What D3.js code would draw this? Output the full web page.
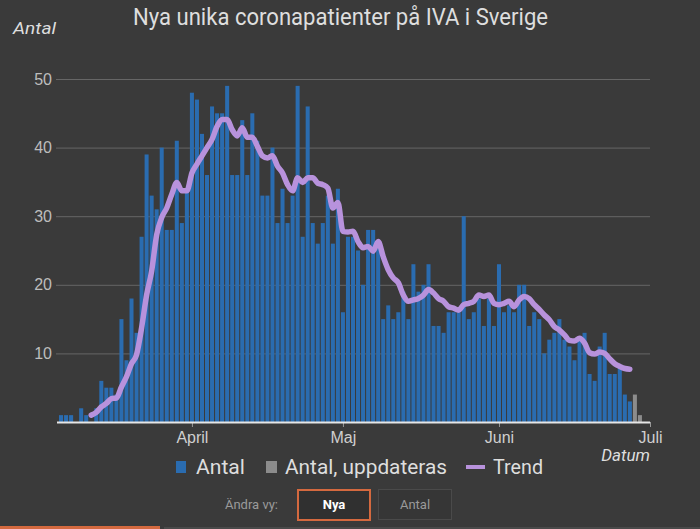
<!DOCTYPE html>
<html>
<head>
<meta charset="utf-8">
<script src="https://cdn.jsdelivr.net/npm/d3@7"></script>
<style>
  html, body { margin: 0; padding: 0; background: #3a3a3a; }
  svg { display: block; font-family: Roboto, "Noto Sans", sans-serif; }
</style>
</head>
<body>
<svg id="chart" width="700" height="529"></svg>
<script>
// ---- Data ----
const title = "Nya unika coronapatienter på IVA i Sverige";
const startDate = "2020-03-06";           // first bar
const antal = [1,1,1,0,2,1,0,2,6,5,5,4,15,9,18,13,27,39,33,31,40,28,28,41,29,34,48,47,42,36,
  46,45,45,49,36,36,44,36,45,41,33,33,40,29,34,29,33,49,27,46,29,26,29,33,26,34,16,27,27,25,
  20,28,28,26,15,17,15,16,19,15,23,19,20,23,14,14,13,16,16,16,30,15,16,18,14,18,14,23,16,17,
  16,20,20,14,16,15,10,12,13,15,12,11,9,12,13,7,6,11,13,7,7,8,4,3];
const antalUppdateras = [4, 1];            // last days, still being updated
const trendStartOffset = 6;                // trend starts 2020-03-12
const trend = [1.0,1.4,2.2,2.7,3.4,3.5,5.1,6.6,8.5,9.8,13.7,18.5,22,27.3,29.8,31.2,33.2,34.9,33.7,33.7,
  36.3,37.6,38.8,40,41.2,43.1,44.1,44.1,42.6,41.7,42.9,41.5,41.5,40.2,38.8,38.5,38.8,37.3,36.3,34.6,
  33.7,35.6,34.9,35.6,35.6,34.8,34.6,34.1,31.2,32,27.8,27.7,27.8,26.3,25.4,25.6,24.9,26.3,24.1,22.2,
  21,20.3,18.5,17.6,17.8,18,18.5,19.3,18.8,18,17.6,16.8,16.6,16.3,17.1,17.3,17.6,18.5,18.3,18.5,
  17.3,17.1,17.3,17.6,16.8,17.8,18.3,18,17.1,16.4,15.6,14.9,13.9,13.4,12.7,11.9,11.8,12.2,11.5,10.1,
  9.9,10.2,10,9.2,8.5,8.1,7.8,7.7];
const yTicks = [10, 20, 30, 40, 50];
const monthTicks = ["2020-04-01", "2020-05-01", "2020-06-01", "2020-07-01"];
const monthLabels = ["April", "Maj", "Juni", "Juli"];
const legendLabels = ["Antal", "Antal, uppdateras", "Trend"];

(function () {
const parse = d3.timeParse("%Y-%m-%d");
const start = parse(startDate);
const bars = antal.map((v, i) => ({ date: d3.timeDay.offset(start, i), value: v, upd: false }))
  .concat(antalUppdateras.map((v, i) => ({ date: d3.timeDay.offset(start, antal.length + i), value: v, upd: true })));
const trendPts = trend.map((v, i) => ({ date: d3.timeDay.offset(start, trendStartOffset + i), value: v }));

const svg = d3.select("#chart");
const W = 700, H = 529;
const mLeft = 56, mRight = 650, mTop = 79, mBottom = 422;

svg.append("rect").attr("width", W).attr("height", H).attr("fill", "#3a3a3a");

const x = d3.scaleTime()
  .domain([parse("2020-03-05"), parse("2020-07-01")])
  .range([mLeft, mRight]);
const y = d3.scaleLinear().domain([0, 50]).range([mBottom, mTop]);
const dayW = x(parse("2020-04-02")) - x(parse("2020-04-01"));
const barW = dayW * 0.8;

// gridlines + y labels
const yAxis = svg.append("g").attr("transform", `translate(${mLeft},0)`)
  .call(d3.axisLeft(y).tickValues(yTicks).tickSize(-(mRight - mLeft)).tickPadding(5).tickFormat(d3.format("d")));
yAxis.select(".domain").remove();
yAxis.selectAll(".tick line").attr("stroke", "#666").attr("stroke-width", 1);
yAxis.selectAll(".tick text").attr("fill", "#bdbdbd").style("font-size", "16px").attr("x", -4);

// bars
svg.append("g").selectAll("rect").data(bars).join("rect")
  .attr("x", d => x(d.date) - barW / 2)
  .attr("width", barW)
  .attr("y", d => y(d.value))
  .attr("height", d => y(0) - y(d.value))
  .attr("fill", d => d.upd ? "#8c8c8c" : "#2a6cb0");

// trend
svg.append("path").datum(trendPts)
  .attr("fill", "none")
  .attr("stroke", "#b892dc")
  .attr("stroke-width", 5.5)
  .attr("stroke-linecap", "round")
  .attr("stroke-linejoin", "round")
  .attr("d", d3.line().x(d => x(d.date)).y(d => y(d.value)).curve(d3.curveMonotoneX));

// x axis
const xAxis = svg.append("g").attr("transform", `translate(0,${mBottom})`)
  .call(d3.axisBottom(x).tickValues(monthTicks.map(parse)).tickSize(5).tickPadding(5)
    .tickFormat((d, i) => monthLabels[i]));
xAxis.select(".domain").remove();
xAxis.selectAll(".tick line").attr("stroke", "#999");
xAxis.selectAll(".tick text").attr("fill", "#cfcfcf").style("font-size", "16px");
svg.append("line").attr("x1", mLeft + 1).attr("x2", mRight).attr("y1", mBottom + 0.5).attr("y2", mBottom + 0.5)
  .attr("stroke", "#e6e6e6").attr("stroke-width", 2);

// titles
svg.append("text").attr("x", 133).attr("y", 25).text(title)
  .attr("fill", "#dedede").style("font-size", "23px")
  .attr("textLength", 415).attr("lengthAdjust", "spacingAndGlyphs");
svg.append("text").attr("x", 13).attr("y", 34).text("Antal")
  .attr("fill", "#dedede").style("font-size", "17px").style("font-style", "italic")
  .attr("textLength", 43).attr("lengthAdjust", "spacingAndGlyphs");
svg.append("text").attr("x", 650).attr("y", 461).attr("text-anchor", "end").text("Datum")
  .attr("fill", "#dedede").style("font-size", "17px").style("font-style", "italic");

// legend
const lg = svg.append("g");
lg.append("rect").attr("x", 176).attr("y", 461).attr("width", 10).attr("height", 12).attr("fill", "#2a6cb0");
lg.append("text").attr("x", 196).attr("y", 474).text(legendLabels[0]).attr("fill", "#dedede")
  .style("font-size", "21px").attr("textLength", 49).attr("lengthAdjust", "spacingAndGlyphs");
lg.append("rect").attr("x", 266).attr("y", 461).attr("width", 11).attr("height", 12).attr("fill", "#8c8c8c");
lg.append("text").attr("x", 285).attr("y", 474).text(legendLabels[1]).attr("fill", "#dedede")
  .style("font-size", "21px").attr("textLength", 162).attr("lengthAdjust", "spacingAndGlyphs");
lg.append("line").attr("x1", 466).attr("x2", 485).attr("y1", 467).attr("y2", 467)
  .attr("stroke", "#b892dc").attr("stroke-width", 4);
lg.append("text").attr("x", 493).attr("y", 474).text(legendLabels[2]).attr("fill", "#dedede")
  .style("font-size", "21px").attr("textLength", 50).attr("lengthAdjust", "spacingAndGlyphs");

// view buttons
svg.append("text").attr("x", 278).attr("y", 509).attr("text-anchor", "end").text("Ändra vy:")
  .attr("fill", "#9a9a9a").style("font-size", "13px");
svg.append("rect").attr("x", 298).attr("y", 490).attr("width", 72).attr("height", 30)
  .attr("fill", "#303030").attr("stroke", "#d4693f").attr("stroke-width", 2);
svg.append("text").attr("x", 334).attr("y", 509).attr("text-anchor", "middle").text("Nya")
  .attr("fill", "#ffffff").style("font-size", "13px").style("font-weight", "bold");
svg.append("rect").attr("x", 378.5).attr("y", 489.5).attr("width", 73).attr("height", 30)
  .attr("fill", "#363636").attr("stroke", "#4a4a4a").attr("stroke-width", 1);
svg.append("text").attr("x", 415).attr("y", 509).attr("text-anchor", "middle").text("Antal")
  .attr("fill", "#9a9a9a").style("font-size", "13px");

// bottom tab strip
svg.append("rect").attr("x", 0).attr("y", 526).attr("width", 160).attr("height", 3).attr("fill", "#d4693f");
svg.append("rect").attr("x", 164).attr("y", 527).attr("width", 536).attr("height", 2).attr("fill", "#4a4a4a");
})();
</script>
</body>
</html>
